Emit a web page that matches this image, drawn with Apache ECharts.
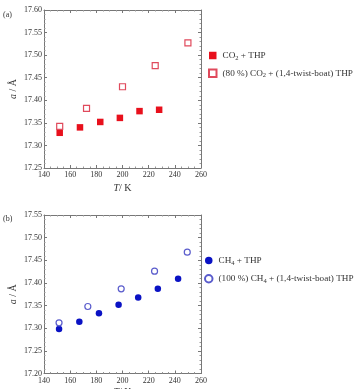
<!DOCTYPE html>
<html>
<head>
<meta charset="utf-8">
<script src="https://cdn.jsdelivr.net/npm/echarts@6/dist/echarts.min.js"></script>
<style>
  html, body { margin: 0; padding: 0; background: #fff; }
  #chart { width: 364px; height: 389px; }
</style>
</head>
<body>
<div id="chart"></div>
<script>
// (a) CO2 + THP
const co2T = [152, 167.5, 183, 198, 213, 228];
const co2A = [17.328, 17.340, 17.352, 17.361, 17.376, 17.379];
// (a) (80 %) CO2 + (1,4-twist-boat) THP
const co2TbT = [152, 172.5, 200, 225, 250];
const co2TbA = [17.342, 17.382, 17.430, 17.477, 17.527];
// (b) CH4 + THP
const ch4T = [151.5, 167, 182, 197, 212, 227, 242.5];
const ch4A = [17.298, 17.314, 17.333, 17.352, 17.368, 17.387, 17.409];
// (b) (100 %) CH4 + (1,4-twist-boat) THP
const ch4TbT = [151.5, 173.5, 199, 224.5, 249.5];
const ch4TbA = [17.312, 17.348, 17.387, 17.426, 17.468];

const yRangeA = [17.25, 17.6];
const yRangeB = [17.2, 17.55];

const FONT = "Liberation Serif";
const zip = (xs, ys) => xs.map((x, i) => [x, ys[i]]);

const legendRich = {
  n: { fontFamily: FONT, fontSize: 9.2, color: "#333" },
  s: { fontFamily: FONT, fontSize: 6.5, color: "#333", padding: [5, 0, 0, 0] },
};
const nameRich = {
  i: { fontStyle: "italic", fontFamily: FONT, fontSize: 10, color: "#333" },
  n: { fontFamily: FONT, fontSize: 10, color: "#333" },
};

function xAxes(grid, gap) {
  const base = {
    type: "value", gridIndex: grid, min: 140, max: 260, interval: 20,
    axisLine: { show: true, lineStyle: { color: "#777", width: 1 } },
    axisTick: { show: true, inside: true, length: 3, lineStyle: { color: "#777" } },
    minorTick: { show: true, splitNumber: 4, length: 1.5, lineStyle: { color: "#999" } },
    splitLine: { show: false },
  };
  return [
    Object.assign({}, base, {
      position: "bottom",
      axisLabel: { fontFamily: FONT, fontSize: 8, color: "#333", margin: 3 },
      name: "{i|T}{n|/ K}", nameLocation: "middle", nameGap: gap, nameMoveOverlap: false,
      nameTextStyle: { rich: nameRich },
    }),
    Object.assign({}, base, { position: "top", axisLabel: { show: false } }),
  ];
}

function yAxes(grid, range) {
  const base = {
    type: "value", gridIndex: grid, min: range[0], max: range[1], interval: 0.05,
    axisLine: { show: true, lineStyle: { color: "#777", width: 1 } },
    axisTick: { show: true, inside: true, length: 3, lineStyle: { color: "#777" } },
    minorTick: { show: true, splitNumber: 5, length: 1.5, lineStyle: { color: "#999" } },
    splitLine: { show: false },
  };
  return [
    Object.assign({}, base, {
      position: "left",
      axisLabel: { fontFamily: FONT, fontSize: 8, color: "#333", margin: 2,
        formatter: (v) => v.toFixed(2) },
      name: "{i|a}{n| / Å}", nameLocation: "middle", nameGap: 26, nameRotate: 90,
      nameMoveOverlap: false,
      nameTextStyle: { rich: nameRich },
    }),
    Object.assign({}, base, { position: "right", axisLabel: { show: false } }),
  ];
}

const chart = echarts.init(document.getElementById("chart"), null, { renderer: "canvas" });

const option = {
  animation: false,
  backgroundColor: "#fff",
  grid: [
    { left: 44, top: 10, width: 157, height: 158, outerBoundsMode: "none", containLabel: false },
    { left: 44, top: 215, width: 157, height: 158.5, outerBoundsMode: "none", containLabel: false },
  ],
  xAxis: [...xAxes(0, 15), ...xAxes(1, 14)],
  yAxis: [...yAxes(0, yRangeA), ...yAxes(1, yRangeB)],
  legend: [
    {
      data: ["co2", "co2tb"], orient: "vertical", left: 203, top: 46,
      itemWidth: 7.5, itemHeight: 7.5, itemGap: 7,
      formatter: (n) => n === "co2"
        ? "{n|CO}{s|2}{n| + THP}"
        : "{n|(80 %) CO}{s|2}{n| + (1,4-twist-boat) THP}",
      textStyle: { rich: legendRich, padding: [0, 0, 0, 1] },
    },
    {
      data: ["ch4", "ch4tb"], orient: "vertical", left: 199, top: 251,
      itemWidth: 7.5, itemHeight: 7.5, itemGap: 7.5,
      formatter: (n) => n === "ch4"
        ? "{n|CH}{s|4}{n| + THP}"
        : "{n|(100 %) CH}{s|4}{n| + (1,4-twist-boat) THP}",
      textStyle: { rich: legendRich, padding: [0, 0, 0, 1] },
    },
  ],
  graphic: [
    { type: "text", left: 3, top: 11, style: { text: "(a)", font: "8px " + FONT, fill: "#333" } },
    { type: "text", left: 3, top: 215, style: { text: "(b)", font: "8px " + FONT, fill: "#333" } },
  ],
  series: [
    {
      name: "co2", type: "scatter", xAxisIndex: 0, yAxisIndex: 0,
      symbol: "rect", symbolSize: 6.5, data: zip(co2T, co2A),
      itemStyle: { color: "#e8101c", opacity: 1 },
    },
    {
      name: "co2tb", type: "scatter", xAxisIndex: 0, yAxisIndex: 0,
      symbol: "rect", symbolSize: 6, data: zip(co2TbT, co2TbA),
      itemStyle: { color: "#fff", borderColor: "#e04a5c", borderWidth: 1.2, opacity: 1 },
    },
    {
      name: "ch4", type: "scatter", xAxisIndex: 2, yAxisIndex: 2,
      symbol: "circle", symbolSize: 6.5, data: zip(ch4T, ch4A),
      itemStyle: { color: "#0a12c4", opacity: 1 },
    },
    {
      name: "ch4tb", type: "scatter", xAxisIndex: 2, yAxisIndex: 2,
      symbol: "circle", symbolSize: 6, data: zip(ch4TbT, ch4TbA),
      itemStyle: { color: "#fff", borderColor: "#5a5ccc", borderWidth: 1.2, opacity: 1 },
    },
  ],
};

chart.setOption(option);
</script>
</body>
</html>
